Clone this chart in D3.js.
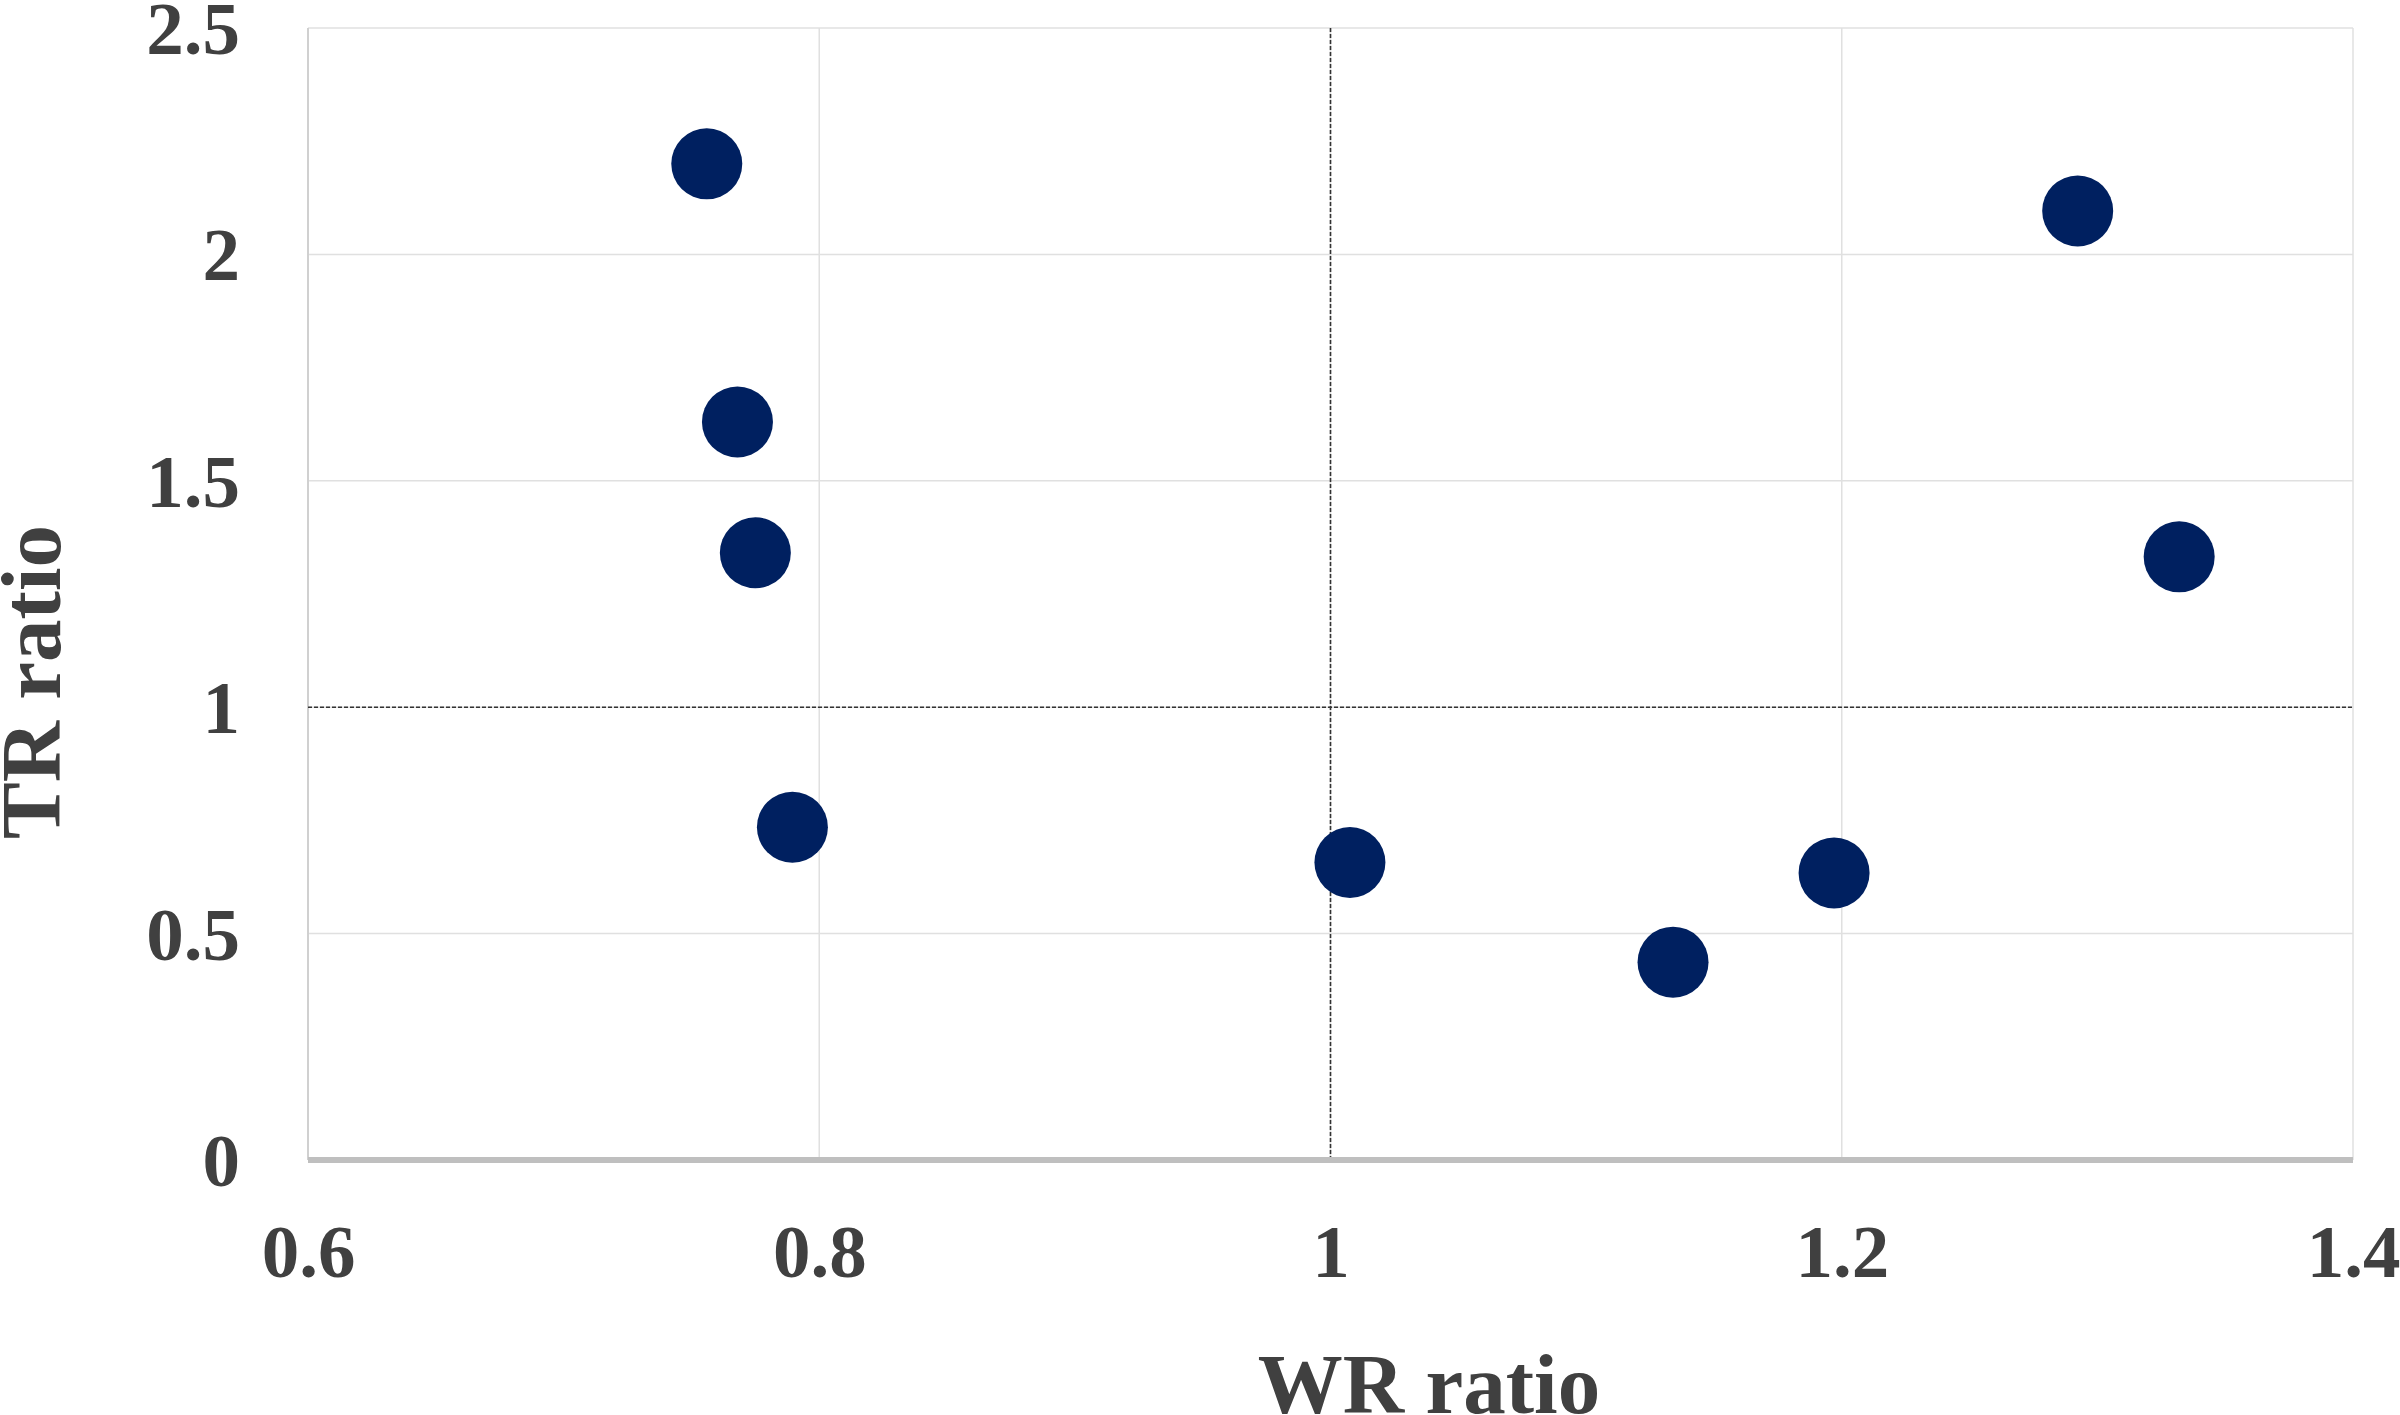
<!DOCTYPE html>
<html>
<head>
<meta charset="utf-8">
<script src="https://cdn.jsdelivr.net/npm/d3@7"></script>
<style>
  html, body { margin: 0; padding: 0; background: #ffffff; }
  svg { display: block; }
  text { font-family: "Liberation Serif", "Times New Roman", serif; font-weight: bold; fill: #404040; }
</style>
</head>
<body>
<svg id="chart" width="2400" height="1415"></svg>
<script>
// ---- data ----
const wrRatio = [0.756, 0.768, 0.775, 0.7895, 1.0076, 1.134, 1.197, 1.2923, 1.332];
const trRatio = [2.20, 1.630, 1.341, 0.735, 0.657, 0.437, 0.634, 2.096, 1.332];
const xTicks = [0.6, 0.8, 1, 1.2, 1.4];
const yTicks = [0, 0.5, 1, 1.5, 2, 2.5];
const xTitle = "WR ratio";
const yTitle = "TR ratio";
const refX = 1;
const refY = 1;

// ---- layout ----
const W = 2400, H = 1415;
const margin = { left: 308, top: 28, right: 47, bottom: 255 };
const svg = d3.select("#chart");

const x = d3.scaleLinear().domain([0.6, 1.4]).range([margin.left, W - margin.right]);
const y = d3.scaleLinear().domain([0, 2.5]).range([H - margin.bottom, margin.top]);

// gridlines
const grid = svg.append("g");
grid.selectAll("line.gx").data(xTicks).join("line")
  .attr("x1", d => x(d)).attr("x2", d => x(d))
  .attr("y1", y(0)).attr("y2", y(2.5))
  .attr("stroke", "#e0e0e0").attr("stroke-width", 1.5);
grid.selectAll("line.gy").data(yTicks.filter(d => d > 0)).join("line")
  .attr("x1", x(0.6)).attr("x2", x(1.4))
  .attr("y1", d => y(d)).attr("y2", d => y(d))
  .attr("stroke", "#e0e0e0").attr("stroke-width", 1.5);

// left axis line
svg.append("line")
  .attr("x1", x(0.6)).attr("x2", x(0.6))
  .attr("y1", y(0)).attr("y2", y(2.5))
  .attr("stroke", "#d0d0d0").attr("stroke-width", 2);

// reference dashed lines
svg.append("line")
  .attr("x1", x(refX)).attr("x2", x(refX))
  .attr("y1", y(0)).attr("y2", y(2.5))
  .attr("stroke", "#333333").attr("stroke-width", 1.6)
  .attr("stroke-dasharray", "4,2");
svg.append("line")
  .attr("x1", x(0.6)).attr("x2", x(1.4))
  .attr("y1", y(refY)).attr("y2", y(refY))
  .attr("stroke", "#333333").attr("stroke-width", 1.6)
  .attr("stroke-dasharray", "4,2");

// bottom axis line
svg.append("line")
  .attr("x1", x(0.6)).attr("x2", x(1.4))
  .attr("y1", y(0)).attr("y2", y(0))
  .attr("stroke", "#bfbfbf").attr("stroke-width", 6);

// axes (labels only)
const xAxis = d3.axisBottom(x).tickValues(xTicks).tickFormat(d3.format("")).tickSize(0).tickPadding(0);
const gx = svg.append("g").attr("transform", `translate(0,${y(0)})`).call(xAxis);
gx.select(".domain").remove();
gx.selectAll("text")
  .attr("y", 117).attr("dy", null)
  .style("font-size", "75px")
  .style("font-family", "'Liberation Serif', 'Times New Roman', serif")
  .style("font-weight", "bold")
  .attr("fill", "#404040");

const yAxis = d3.axisLeft(y).tickValues(yTicks).tickFormat(d3.format("")).tickSize(0).tickPadding(0);
const gy = svg.append("g").attr("transform", `translate(${x(0.6)},0)`).call(yAxis);
gy.select(".domain").remove();
gy.selectAll("text")
  .attr("x", -68).attr("dy", "0.34em")
  .style("font-size", "75px")
  .style("font-family", "'Liberation Serif', 'Times New Roman', serif")
  .style("font-weight", "bold")
  .attr("fill", "#404040");

// points
const pts = wrRatio.map((d, i) => ({ wr: d, tr: trRatio[i] }));
svg.append("g").selectAll("circle").data(pts).join("circle")
  .attr("cx", d => x(d.wr))
  .attr("cy", d => y(d.tr))
  .attr("r", 35.5)
  .attr("fill", "#002060");

// axis titles
svg.append("text")
  .attr("x", 1429).attr("y", 1413)
  .attr("text-anchor", "middle")
  .style("font-size", "85px")
  .text(xTitle);

svg.append("text")
  .attr("transform", "translate(60,682) rotate(-90)")
  .attr("text-anchor", "middle")
  .style("font-size", "85px")
  .text(yTitle);
</script>
</body>
</html>
